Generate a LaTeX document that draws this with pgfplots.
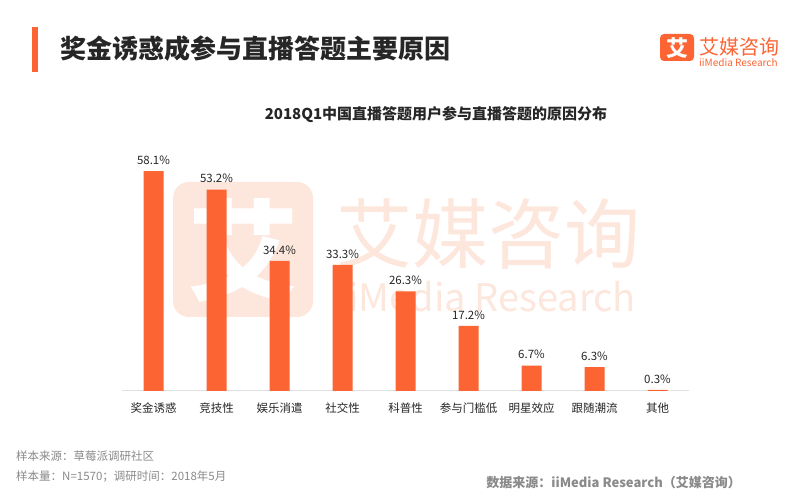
\documentclass[border=0pt]{standalone}
\usepackage{fontspec}
\setmainfont{Noto Sans CJK SC}
\usepackage{pgfplots}
\pgfplotsset{compat=1.18}
\definecolor{imorange}{HTML}{FC6434}
\definecolor{wmark}{HTML}{FDE7DD}
\definecolor{foot}{HTML}{8A8A8A}
\begin{document}
\begin{tikzpicture}
\useasboundingbox (0,0) rectangle (800pt,500pt);
\fill[white] (0,0) rectangle (800pt,500pt);
% watermark
\fill[wmark, rounded corners=16pt] (173pt,318pt) rectangle (313pt,183pt);
\node[white, font=\fontsize{110}{110}\selectfont\bfseries] at (243pt,250pt) {艾};
\node[wmark, font=\fontsize{76}{76}\selectfont] at (488pt,266pt) {艾媒咨询};
\node[wmark, font=\fontsize{38}{38}\selectfont] at (487pt,203pt) {iiMedia Research};
% header
\fill[imorange] (32pt,473pt) rectangle (38pt,428pt);
\node[anchor=west, font=\fontsize{26}{26}\selectfont\bfseries, text=black!85] at (57pt,451pt) {奖金诱惑成参与直播答题主要原因};
\fill[imorange, rounded corners=4pt] (660pt,466pt) rectangle (694pt,439pt);
\node[white, font=\fontsize{22}{22}\selectfont\bfseries] at (677pt,452pt) {艾};
\node[anchor=west, imorange, font=\fontsize{20}{20}\selectfont, inner sep=0pt] at (699pt,453pt) {艾媒咨询};
\node[anchor=west, imorange, font=\fontsize{10}{10}\selectfont, inner sep=0pt] at (699pt,437pt) {iiMedia Research};
\node[font=\fontsize{15}{15}\selectfont\bfseries, text=black!85] at (436pt,385pt) {2018Q1中国直播答题用户参与直播答题的原因分布};
% footer
\node[anchor=west, foot, font=\fontsize{11.5}{11.5}\selectfont, inner sep=0pt] at (16pt,44pt) {样本来源：草莓派调研社区};
\node[anchor=west, foot, font=\fontsize{11.5}{11.5}\selectfont, inner sep=0pt] at (16pt,23pt) {样本量：N=1570；调研时间：2018年5月};
\node[anchor=east, foot, font=\fontsize{13}{13}\selectfont\bfseries, inner sep=0pt] at (741pt,17pt) {数据来源：iiMedia Research（艾媒咨询）};
\begin{axis}[
  at={(122pt,109pt)}, anchor=south west,
  scale only axis, width=567pt, height=265pt,
  xmin=-0.5, xmax=8.5, ymin=0, ymax=70,
  axis x line*=bottom, axis y line=none,
  x axis line style={draw=black!12, line width=1pt, -},
  xtick=data, major tick length=0pt,
  xticklabels={奖金诱惑,竞技性,娱乐消遣,社交性,科普性,参与门槛低,明星效应,跟随潮流,其他},
  xticklabel style={font=\fontsize{11.5}{11.5}\selectfont, text=black!85, yshift=-8pt},
  /pgf/number format/assume math mode=true,
  nodes near coords={\pgfmathprintnumber[fixed,precision=1,fixed zerofill]{\pgfplotspointmeta}\%},
  every node near coord/.append style={font=\fontsize{11.5}{11.5}\selectfont, text=black!85, yshift=3pt},
]
\addplot[ybar, bar width=20pt, fill=imorange, draw=none] coordinates {
  (0,58.1) (1,53.2) (2,34.4) (3,33.3) (4,26.3) (5,17.2) (6,6.7) (7,6.3) (8,0.3)
};
\end{axis}
\end{tikzpicture}
\end{document}
